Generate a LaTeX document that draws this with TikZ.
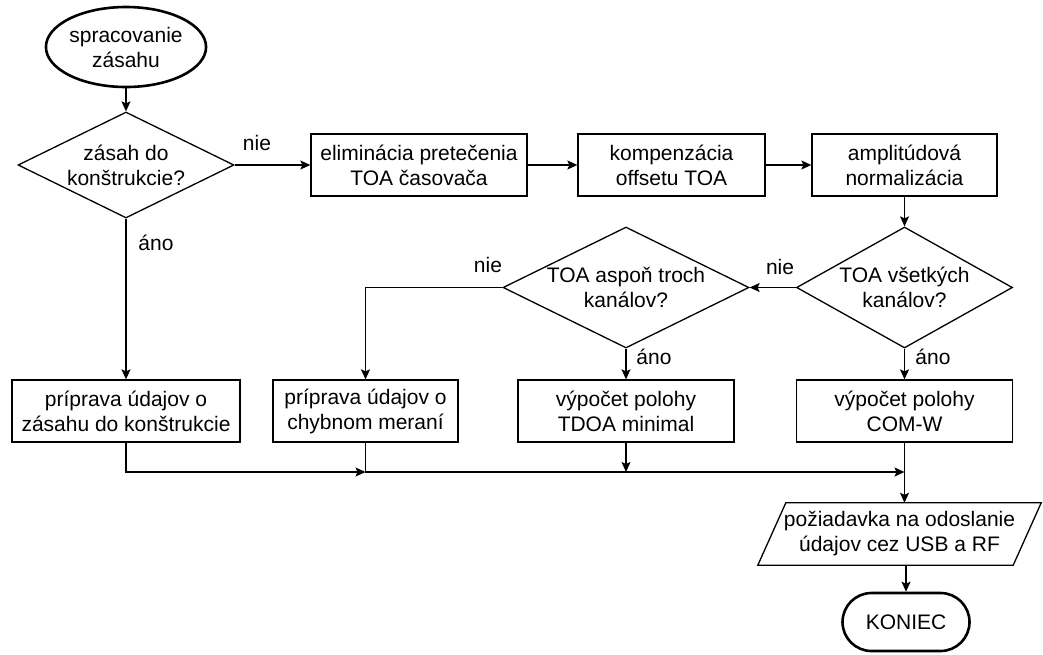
\documentclass[tikz,border=0pt]{standalone}
\usepackage{fontspec}
\setmainfont{Liberation Sans}
\usetikzlibrary{shapes.geometric,arrows.meta}
\begin{document}
\begin{tikzpicture}[x=1pt,y=-1pt,
  every node/.style={font=\fontsize{21}{25}\selectfont, inner sep=0pt, align=center},
  proc/.style={draw, line width=1.3pt, minimum height=62pt},
  dec/.style={draw, diamond, line width=1.3pt},
  term/.style={draw, line width=2.6pt},
  arr/.style={line width=1.3pt, -{Stealth[length=10pt,width=9pt,inset=2pt]}}]
\useasboundingbox (0,0) rectangle (1043,654);

\node[term, ellipse, minimum width=156pt, minimum height=80pt] (start) at (126,47) {spracovanie\\zásahu};
\node[dec, minimum width=216pt, minimum height=106pt] (d1) at (126,165) {};
\node (d1t) at (d1.center) {zásah do\\konštrukcie?};
\node[proc, minimum width=216pt] (elim) at (419,165) {eliminácia pretečenia\\TOA časovača};
\node[proc, minimum width=187pt] (komp) at (671.5,165) {kompenzácia\\offsetu TOA};
\node[proc, minimum width=185pt] (amp) at (904.5,165) {amplitúdová\\normalizácia};
\node[dec, minimum width=216pt, minimum height=121pt] (d2) at (904.5,287.5) {};
\node (d2t) at (d2.center) {TOA všetkých\\kanálov?};
\node[dec, minimum width=246pt, minimum height=121pt] (d3) at (626,287.5) {};
\node (d3t) at (d3.center) {TOA aspoň troch\\kanálov?};
\node[proc, minimum width=228pt] (b1) at (126,411) {príprava údajov o\\zásahu do konštrukcie};
\node[proc, minimum width=185pt] (b2) at (365.5,411) {príprava údajov o\\chybnom meraní};
\node[proc, minimum width=216pt] (tdoa) at (626,411) {výpočet polohy\\TDOA minimal};
\node[proc, minimum width=216pt] (comw) at (904.5,411) {výpočet polohy\\COM-W};
\node[minimum width=255pt, minimum height=62pt] (req) at (899.5,534) {požiadavka na odoslanie\\údajov cez USB a RF};
\draw[line width=1.3pt] ([xshift=14pt]req.north west) -- ([xshift=14pt]req.north east) -- ([xshift=-14pt]req.south east) -- ([xshift=-14pt]req.south west) -- cycle;
\node[term, rounded corners=29pt, minimum width=127pt, minimum height=58pt] (end) at (906,622) {KONIEC};

\node (l1) at (257,143) {nie};
\node (l2) at (156,243) {áno};
\node (l3) at (488,265) {nie};
\node (l4) at (780,267) {nie};
\node (l5) at (654,357) {áno};
\node (l6) at (933,357) {áno};

\draw[arr] (start) -- (d1);
\draw[arr] (d1.east) -- (elim.west);
\draw[arr] (elim) -- (komp);
\draw[arr] (komp) -- (amp);
\draw[arr] (amp) -- (d2);
\draw[arr] (d2.west) -- (d3.east);
\draw[arr] (d2.south) -- (comw.north);
\draw[arr] (d3.south) -- (tdoa.north);
\draw[arr] (d3.west) -| (b2.north);
\draw[arr] (d1.south) -- (b1.north);
\coordinate (j1) at (365.5,472);
\coordinate (j2) at (904.5,472);
\draw[arr] (b1.south) |- (j1);
\draw[arr] (b2.south) |- (j2);
\draw[arr] (tdoa.south) -- (tdoa.south |- j2);
\draw[arr] (comw.south) -- (comw.south |- req.north);
\draw[arr] (end.north |- req.south) -- (end.north);
\end{tikzpicture}
\end{document}
